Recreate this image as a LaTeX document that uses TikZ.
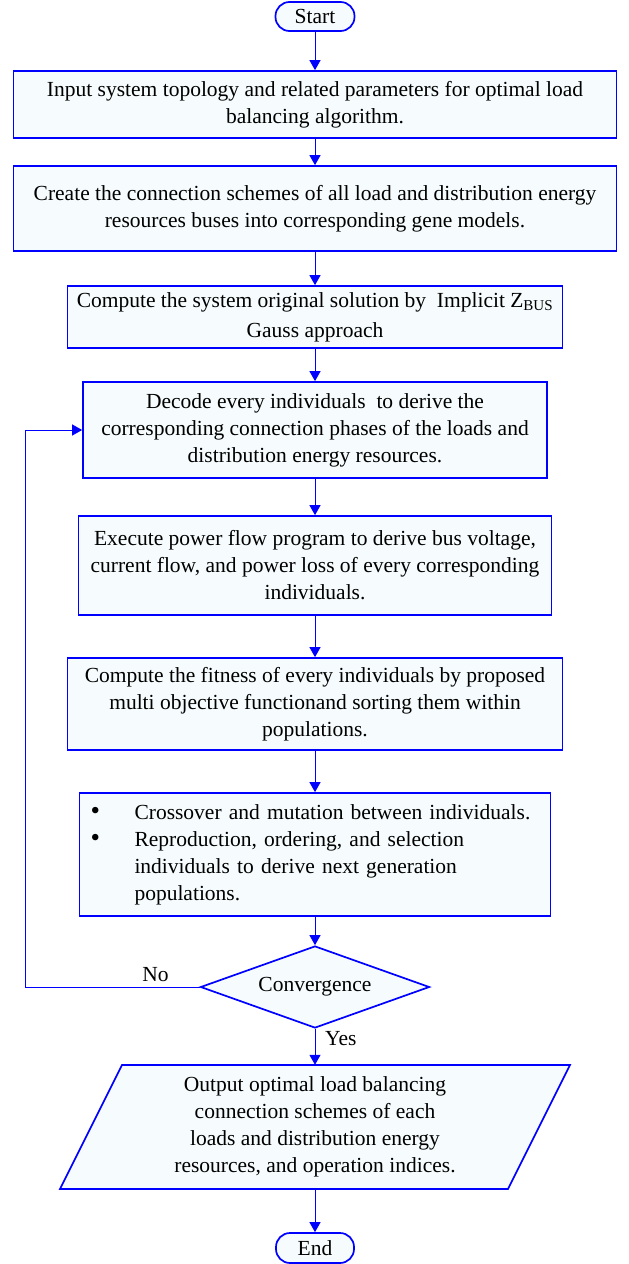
\documentclass[tikz,border=0pt]{standalone}
\usepackage{fontspec}
\setmainfont{Liberation Serif}
\usetikzlibrary{arrows.meta,shapes.geometric,calc}
\definecolor{fillc}{RGB}{246,252,253}
\definecolor{lineblue}{RGB}{0,0,255}
\newcommand{\mybul}{\makebox[44pt][l]{\fontsize{27}{27}\selectfont\textbullet}}
\begin{document}
\begin{tikzpicture}[x=1pt,y=-1pt,
  every node/.style={font=\fontsize{21.5}{27}\selectfont},
  box/.style={draw=lineblue, line width=1.7pt, fill=fillc, inner sep=0pt, align=center},
  term/.style={box, rounded corners=14pt, minimum width=79pt, minimum height=29pt},
  paraline/.style={draw=lineblue, line width=1.7pt, fill=fillc},
  conn/.style={draw=lineblue, line width=1pt, -{Triangle[length=10pt,width=11pt]}},
  lbl/.style={inner sep=0pt}
]
\useasboundingbox (0,0) rectangle (629,1264);

\node[term] (start) at (315,16.5) {Start};

\node[box, minimum width=603pt, minimum height=67pt] (b1) at (315,104.5)
  {Input system topology and related parameters for optimal load\\balancing algorithm.};

\node[box, minimum width=603pt, minimum height=85pt] (b2) at (315,208.5)
  {Create the connection schemes of all load and distribution energy\\resources buses into corresponding gene models.};

\node[box, minimum width=495pt, minimum height=62pt] (b3) at (315,317)
  {Compute the system original solution by\ \ Implicit Z\textsubscript{BUS}\\[3pt]Gauss approach};

\node[box, minimum width=464pt, minimum height=96pt] (b4) at (315,430)
  {Decode every individuals\ \ to derive the\\corresponding connection phases of the loads and\\distribution energy resources.};

\node[box, minimum width=473pt, minimum height=99pt] (b5) at (315,565.5)
  {Execute power flow program to derive bus voltage,\\current flow, and power loss of every corresponding\\individuals.};

\node[box, minimum width=495pt, minimum height=92pt] (b6) at (315,704)
  {Compute the fitness of every individuals by proposed\\multi objective functionand sorting them within\\populations.};

\node[box, minimum width=471pt, minimum height=123pt, text width=449pt, align=left] (b7) at (315,854.5)
  {\mybul Crossover and mutation between individuals.\\
   \mybul Reproduction, ordering, and selection\\
   \hspace*{44pt}individuals to derive next generation\\
   \hspace*{44pt}populations.};

\node[box, diamond, aspect=2.79, minimum width=229pt, minimum height=82pt] (conv) at (315,987) {Convergence};

\path[paraline] (122,1065) -- (570,1065) -- (508,1189) -- (60,1189) -- cycle;
\node[inner sep=0pt, minimum width=448pt, minimum height=124pt, align=center] (out) at (315,1127)
  {Output optimal load balancing\\connection schemes of each\\loads and distribution energy\\resources, and operation indices.};

\node[term, minimum width=78pt, minimum height=30pt] (end) at (315,1248) {End};

\draw[conn] (start) -- (b1);
\draw[conn] (b1) -- (b2);
\draw[conn] (b2) -- (b3);
\draw[conn] (b3) -- (b4);
\draw[conn] (b4) -- (b5);
\draw[conn] (b5) -- (b6);
\draw[conn] (b6) -- (b7);
\draw[conn] (b7) -- (conv);
\draw[conn] (conv) -- (out);
\draw[conn] (out) -- (end);

\coordinate (fb) at (25,430);
\draw[conn] (conv.west) -| (fb) -- (b4.west);

\node[lbl] (no) at (155.5,975) {No};
\node[lbl, anchor=west] (yes) at (325,1039) {Yes};
\end{tikzpicture}
\end{document}
